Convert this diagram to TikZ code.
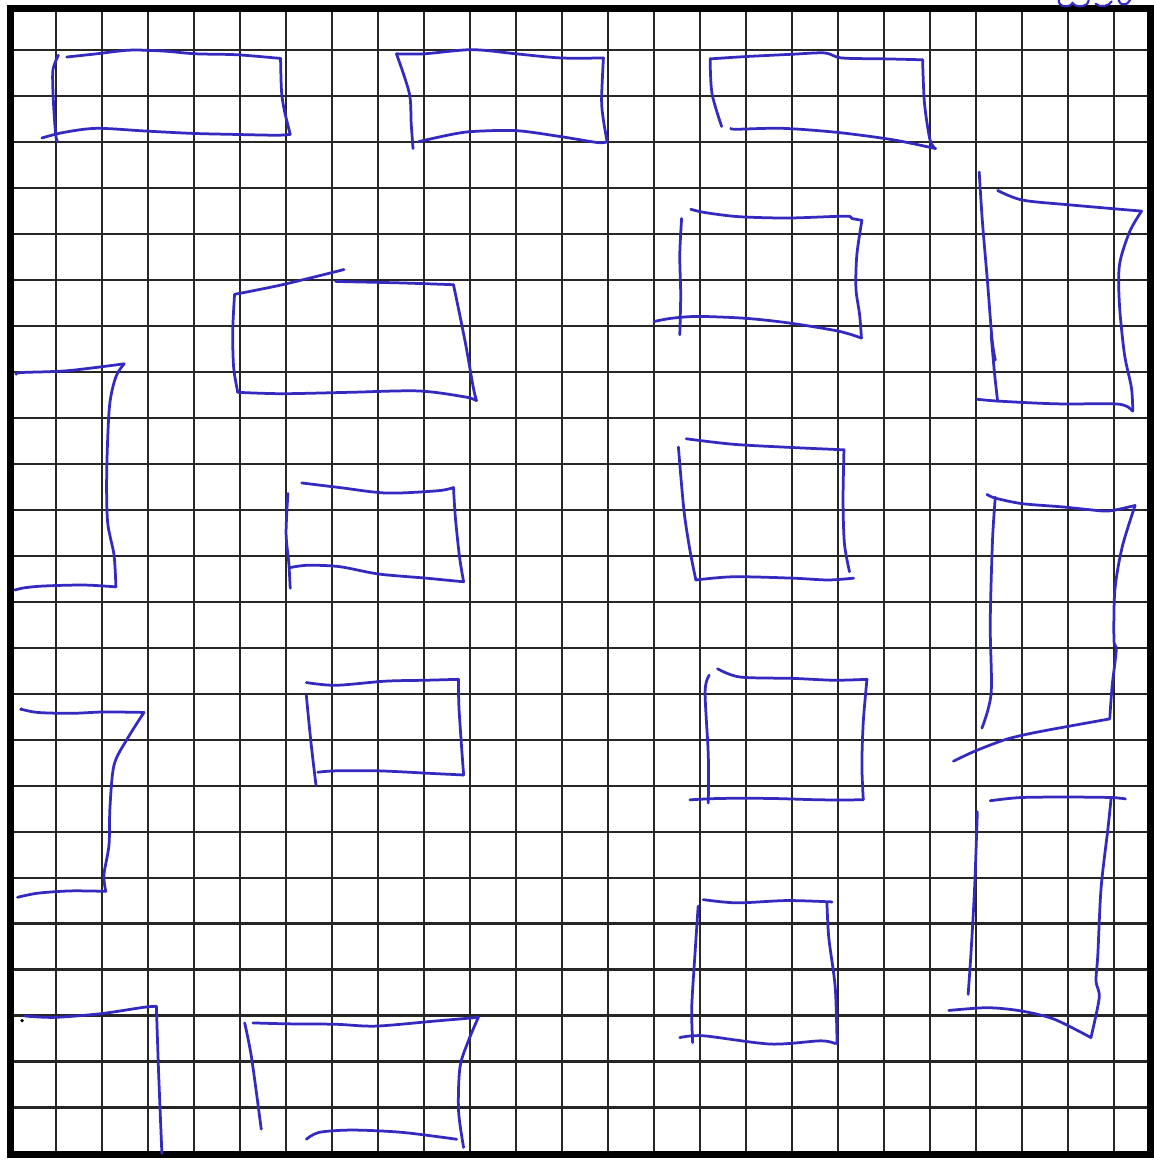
\documentclass[tikz,border=0pt]{standalone}
\usepackage{xcolor}
\definecolor{tinta}{RGB}{52,42,192}

\begin{document}
\begin{tikzpicture}[xscale=1.0, yscale=-1.0,
    reja/.style={black!85, line width=1.3pt},
    marco/.style={black, line width=4.3pt},
    trazo/.style={tinta, line width=1.7pt, line cap=round, line join=round}]
  % Hoja de papel
  \useasboundingbox (-1.22,-1.08) rectangle (23.87,24.25);
  \fill[white] (-1.22,-1.08) rectangle (23.87,24.25);

  % Cuadrícula
  \foreach \i in {0,...,23}{
    \draw[reja] (\i,-0.9) -- (\i,24.02);
    \draw[reja] (-1,\i) -- (23.8,\i);
  }

  % Marco exterior
  \draw[marco] (-1,-0.9) rectangle (23.8,24.02);

  % Garabato arriba a la derecha (cortado)
  \draw[trazo, line width=1.3pt] (21.8,-1.08) .. controls (21.78,-0.92) and (22.05,-0.9) .. (22.1,-1.02)
        .. controls (22.15,-0.9) and (22.45,-0.92) .. (22.45,-1.08);
  \draw[trazo, line width=1.3pt] (22.6,-1.0) .. controls (22.7,-0.9) and (22.9,-0.95) .. (22.95,-1.05);
  \draw[trazo, line width=1.3pt] (23.1,-1.08) .. controls (23.12,-0.95) and (23.3,-0.95) .. (23.35,-1.08);

  % Caja 1 (arriba izquierda)
  \draw[trazo] plot[smooth] coordinates {(0.05,0.12) (-0.07,0.45) (-0.06,1.1) (-0.01,1.84) (0.03,2.0)};
  \draw[trazo] plot[smooth] coordinates {(0.23,0.16) (0.88,0.09) (1.6,0.01) (2.33,0.03) (3.04,0.09) (3.92,0.11) (4.88,0.19)};
  \draw[trazo] plot[smooth] coordinates {(4.88,0.19) (4.9,0.89) (4.96,1.31) (5.09,1.84)};
  \draw[trazo] plot[smooth] coordinates {(5.09,1.84) (4.79,1.86) (3.77,1.84) (2.96,1.82) (1.96,1.77) (0.88,1.71) (0.16,1.8) (-0.31,1.92)};

  % Caja 2 (arriba centro)
  \draw[trazo] plot[smooth] coordinates {(7.40,0.09) (8,0.09) (9.04,0.0) (10.0,0.09) (10.97,0.18) (11.9,0.18)};
  \draw[trazo] plot[smooth] coordinates {(11.9,0.18) (11.86,1.09) (11.9,1.53) (11.98,2.0)};
  \draw[trazo] plot[smooth] coordinates {(11.98,2.0) (11.78,2.02) (10.97,1.89) (10.0,1.76) (9.04,1.78) (8.56,1.85) (7.88,2.0)};
  \draw[trazo] plot[smooth] coordinates {(7.40,0.09) (7.68,0.95) (7.72,1.6) (7.76,2.15)};

  % Caja 3 (arriba derecha)
  \draw[trazo] plot[smooth] coordinates {(14.22,0.2) (14.99,0.15) (16.0,0.1) (16.71,0.07) (17.08,0.18) (18.04,0.2) (18.84,0.22)};
  \draw[trazo] plot[smooth] coordinates {(18.84,0.22) (18.88,1.16) (19.0,1.96) (19.12,2.15)};
  \draw[trazo] plot[smooth] coordinates {(19.12,2.15) (18.2,1.96) (17.0,1.8) (15.79,1.71) (14.79,1.73) (14.67,1.71)};
  \draw[trazo] plot[smooth] coordinates {(14.22,0.2) (14.26,0.95) (14.47,1.67)};

  % Caja 4
  \draw[trazo] plot[smooth] coordinates {(13.8,3.47) (14.1,3.54) (14.83,3.63) (15.92,3.66) (17.16,3.62) (17.3,3.67) (17.52,3.71)};
  \draw[trazo] plot[smooth] coordinates {(17.52,3.71) (17.41,4.46) (17.39,5.19) (17.47,5.76) (17.51,6.27)};
  \draw[trazo] plot[smooth] coordinates {(17.51,6.27) (17.01,6.12) (15.92,5.94) (14.98,5.84) (13.96,5.8) (13.38,5.84) (13.0,5.91)};
  \draw[trazo] plot[smooth] coordinates {(13.6,3.67) (13.56,4.46) (13.58,5.33) (13.56,6.2)};

  % Caja 5 (derecha, alta)
  \draw[trazo] plot[smooth] coordinates {(20.07,2.66) (20.14,3.74) (20.25,5.04) (20.35,6.3) (20.42,6.75)};
  \draw[trazo] plot[smooth] coordinates {(20.33,6.2) (20.4,7.0) (20.47,7.64)};
  \draw[trazo] plot[smooth] coordinates {(20.47,3.06) (21.01,3.27) (22.1,3.38) (23.6,3.51)};
  \draw[trazo] plot[smooth] coordinates {(23.6,3.51) (23.34,3.96) (23.12,4.68) (23.12,5.55) (23.23,6.63) (23.38,7.35) (23.41,7.86)};
  \draw[trazo] plot[smooth] coordinates {(20.03,7.6) (20.47,7.64) (21.74,7.7) (22.98,7.7) (23.27,7.75) (23.41,7.86)};

  % Caja 6
  \draw[trazo] plot[smooth] coordinates {(3.88,5.32) (4.92,5.11) (6.26,4.78)};
  \draw[trazo] plot[smooth] coordinates {(6.08,5.04) (7.45,5.07) (8.64,5.11)};
  \draw[trazo] plot[smooth] coordinates {(8.64,5.11) (8.89,6.33) (9.07,7.34) (9.14,7.63)};
  \draw[trazo] plot[smooth] coordinates {(9.14,7.63) (8.89,7.55) (7.88,7.42) (6.37,7.45) (4.92,7.48) (3.95,7.45)};
  \draw[trazo] plot[smooth] coordinates {(3.88,5.32) (3.84,6.12) (3.86,6.91) (3.95,7.45)};

  % Caja 7 (borde izquierdo)
  \draw[trazo] plot[smooth] coordinates {(-0.87,7.06) (-0.76,7.02) (0.25,6.98) (1.48,6.83)};
  \draw[trazo] plot[smooth] coordinates {(1.48,6.83) (1.3,7.11) (1.16,7.76) (1.1,9.19) (1.12,10.27) (1.26,10.99) (1.3,11.68)};
  \draw[trazo] plot[smooth] coordinates {(1.3,11.68) (0.61,11.64) (-0.25,11.66) (-0.69,11.7) (-0.9,11.75)};

  % Caja 8
  \draw[trazo] plot[smooth] coordinates {(5.34,9.42) (6.16,9.52) (7.19,9.64) (8.3,9.59) (8.64,9.52)};
  \draw[trazo] plot[smooth] coordinates {(8.64,9.52) (8.68,10.16) (8.77,11.02) (8.86,11.57)};
  \draw[trazo] plot[smooth] coordinates {(8.86,11.57) (8.04,11.49) (7.01,11.4) (6.16,11.24) (5.47,11.21) (5.09,11.26)};
  \draw[trazo] plot[smooth] coordinates {(5.04,9.65) (5.0,10.52) (5.06,11.17) (5.09,11.71)};

  % Caja 9
  \draw[trazo] plot[smooth] coordinates {(13.53,8.64) (13.65,10.01) (13.78,10.88) (13.91,11.53)};
  \draw[trazo] plot[smooth] coordinates {(13.7,8.46) (14.73,8.58) (16.01,8.65) (17.13,8.7)};
  \draw[trazo] plot[smooth] coordinates {(17.13,8.7) (17.11,9.8) (17.14,10.74) (17.25,11.35)};
  \draw[trazo] plot[smooth] coordinates {(13.91,11.53) (14.73,11.46) (16.01,11.49) (16.78,11.53) (17.34,11.49)};

  % Caja 10 (derecha, con diagonal)
  \draw[trazo] plot[smooth] coordinates {(20.24,9.67) (20.42,9.75) (21.0,9.87) (21.87,9.94) (22.45,10.0) (22.89,10.03) (23.46,9.91)};
  \draw[trazo] plot[smooth] coordinates {(20.42,9.73) (20.36,10.66) (20.31,12.47) (20.33,13.99) (20.13,14.75)};
  \draw[trazo] plot[smooth] coordinates {(23.46,9.91) (23.18,10.81) (23.02,11.75) (23.0,12.83) (23.05,13.05) (22.96,13.84) (22.91,14.53)};
  \draw[trazo] plot[smooth] coordinates {(22.91,14.55) (22.02,14.71) (21.22,14.86) (20.64,15.0) (19.98,15.25) (19.51,15.47)};

  % Caja 11
  \draw[trazo] plot[smooth] coordinates {(5.44,13.76) (6.08,13.82) (7.16,13.73) (8.03,13.71) (8.75,13.69)};
  \draw[trazo] plot[smooth] coordinates {(8.75,13.69) (8.76,14.33) (8.86,15.77)};
  \draw[trazo] plot[smooth] coordinates {(8.86,15.77) (8.24,15.74) (7.02,15.68) (6.08,15.68) (5.69,15.71)};
  \draw[trazo] plot[smooth] coordinates {(5.44,14.04) (5.54,15.05) (5.65,15.99)};

  % Caja 12
  \draw[trazo] plot[smooth] coordinates {(14.38,13.46) (14.87,13.64) (16.03,13.67) (16.91,13.71) (17.63,13.69)};
  \draw[trazo] plot[smooth] coordinates {(17.63,13.69) (17.55,14.61) (17.52,15.55) (17.55,16.31)};
  \draw[trazo] plot[smooth] coordinates {(17.55,16.31) (16.62,16.31) (15.53,16.28) (14.44,16.28) (13.78,16.31)};
  \draw[trazo] plot[smooth] coordinates {(14.2,13.6) (14.11,13.96) (14.18,15.34) (14.18,16.38)};

  % Caja 13 (borde izquierdo)
  \fill[black] (-0.76,14.34) circle (0.04);
  \draw[trazo] plot[smooth] coordinates {(-0.76,14.34) (-0.4,14.41) (0.32,14.43) (1.04,14.4) (1.91,14.41)};
  \draw[trazo] plot[smooth] coordinates {(1.91,14.41) (1.55,14.98) (1.26,15.55) (1.17,16.49) (1.15,17.29) (1.04,17.94) (1.08,18.3)};
  \draw[trazo] plot[smooth] coordinates {(1.08,18.3) (0.32,18.29) (-0.4,18.34) (-0.84,18.43)};

  % Caja 14
  \draw[trazo] plot[smooth] coordinates {(20.31,16.33) (20.98,16.26) (22.07,16.25) (22.94,16.26) (23.25,16.29)};
  \draw[trazo] plot[smooth] coordinates {(20.03,16.57) (19.97,18.23) (19.89,19.67) (19.83,20.54)};
  \draw[trazo] plot[smooth] coordinates {(22.94,16.26) (22.87,16.93) (22.72,18.23) (22.65,19.67) (22.61,20.25) (22.68,20.61) (22.5,21.48)};
  \draw[trazo] plot[smooth] coordinates {(22.5,21.48) (21.7,21.08) (20.98,20.9) (20.25,20.83) (19.41,20.89)};

  % Caja 15
  \draw[trazo] plot[smooth] coordinates {(14.07,18.48) (14.8,18.55) (15.89,18.5) (16.87,18.53)};
  \draw[trazo] plot[smooth] coordinates {(16.76,18.55) (16.8,19.31) (16.94,20.39) (16.98,21.62)};
  \draw[trazo] plot[smooth] coordinates {(13.96,18.62) (13.89,19.67) (13.82,20.83) (13.84,21.59)};
  \draw[trazo] plot[smooth] coordinates {(13.56,21.48) (14.07,21.44) (15.53,21.62) (16.62,21.55) (16.94,21.61)};

  % Caja 16 (abajo izquierda)
  \fill[black] (-0.74,21.11) circle (0.04);
  \draw[trazo] plot[smooth] coordinates {(-0.68,21.01) (-0.04,21.04) (0.97,20.96) (1.91,20.82) (2.18,20.8)};
  \draw[trazo] plot[smooth] coordinates {(2.18,20.8) (2.23,22.28) (2.3,24.0)};

  % Caja 17 (abajo)
  \draw[trazo] plot[smooth] coordinates {(4.1,21.16) (4.25,21.92) (4.46,23.47)};
  \draw[trazo] plot[smooth] coordinates {(4.28,21.16) (5.0,21.18) (6.08,21.19) (6.95,21.23) (8.24,21.12) (9.18,21.04)};
  \draw[trazo] plot[smooth] coordinates {(9.18,21.04) (8.96,21.56) (8.78,22.13) (8.75,23.07) (8.86,23.87)};
  \draw[trazo] plot[smooth] coordinates {(5.44,23.69) (5.72,23.54) (6.44,23.49) (7.52,23.54) (8.71,23.69)};
\end{tikzpicture}
\end{document}
